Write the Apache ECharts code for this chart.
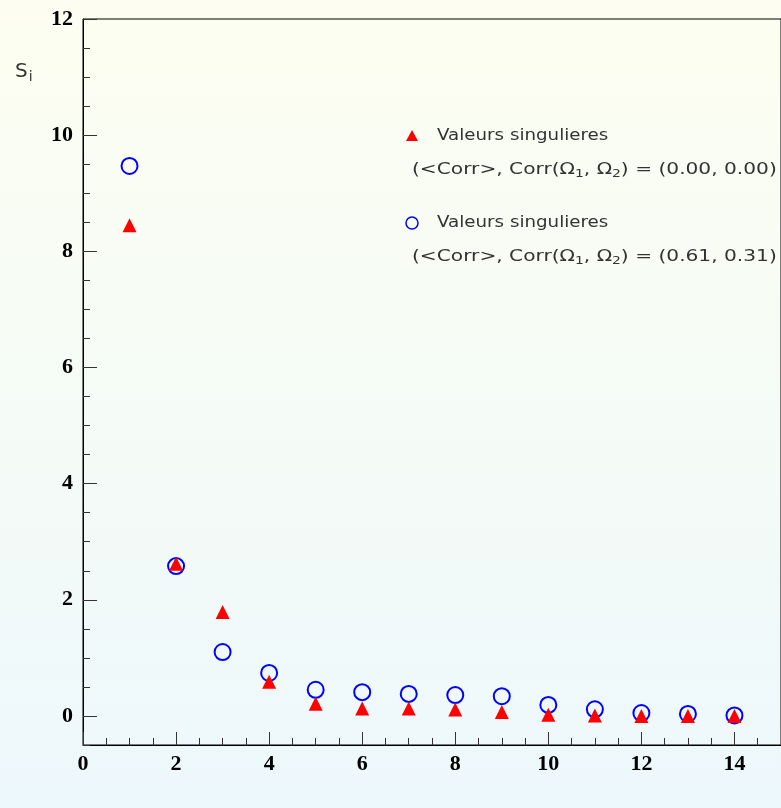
<!DOCTYPE html>
<html>
<head>
<meta charset="utf-8">
<script src="https://cdn.jsdelivr.net/npm/echarts@6/dist/echarts.min.js"></script>
<style>
html,body{margin:0;padding:0;}
#c{width:781px;height:808px;}
</style>
</head>
<body>
<div id="c"></div>
<script>
// ---- data ----
var indices = [1, 2, 3, 4, 5, 6, 7, 8, 9, 10, 11, 12, 13, 14];
var svUncorrelated = [8.45, 2.62, 1.79, 0.59, 0.21, 0.13, 0.13, 0.11, 0.07, 0.02, 0.01, 0.0, 0.0, 0.0];
var svCorrelated = [9.47, 2.58, 1.10, 0.74, 0.45, 0.41, 0.38, 0.36, 0.34, 0.19, 0.115, 0.05, 0.035, 0.01];
var xMajorTicks = [0, 2, 4, 6, 8, 10, 12, 14];
var xMinorTicks = [0.5, 1, 1.5, 2.5, 3, 3.5, 4.5, 5, 5.5, 6.5, 7, 7.5, 8.5, 9, 9.5, 10.5, 11, 11.5, 12.5, 13, 13.5, 14.5];
var yMajorTicks = [0, 2, 4, 6, 8, 10, 12];
var yMinorTicks = [-0.5, 0.5, 1, 1.5, 2.5, 3, 3.5, 4.5, 5, 5.5, 6.5, 7, 7.5, 8.5, 9, 9.5, 10.5, 11, 11.5];
var legendName = 'Valeurs singulieres';
var legendCorr1 = '(<Corr>, Corr(Ω{sub|1}, Ω{sub|2}) = (0.00, 0.00)';
var legendCorr2 = '(<Corr>, Corr(Ω{sub|1}, Ω{sub|2}) = (0.61, 0.31)';

function pairs(xs, ys) { return xs.map(function (x, i) { return [x, ys[i]]; }); }

var chart = echarts.init(document.getElementById('c'), null, {renderer: 'canvas'});
var labelFont = {fontFamily: 'Liberation Serif', fontWeight: 'bold', fontSize: 22, color: '#000'};
var legFont = 'DejaVu Sans';
var legStyle = function (t) {
  return {text: t, fontFamily: legFont, fontSize: 16, fill: '#333', verticalAlign: 'middle',
    rich: {sub: {fontFamily: legFont, fontSize: 11, fill: '#333', padding: [9, 0, 0, 0]}}};
};

var option = {
  animation: false,
  backgroundColor: new echarts.graphic.LinearGradient(0, 0, 0, 1, [
    {offset: 0, color: '#fdfef1'},
    {offset: 0.5, color: '#f5fbf6'},
    {offset: 1, color: '#edf8fc'}
  ]),
  grid: {left: 83, top: 19, width: 704, height: 726, show: true, borderColor: '#000', borderWidth: 1, backgroundColor: 'transparent'},
  xAxis: [{
    type: 'value', min: 0, max: 15, gridIndex: 0, position: 'bottom',
    axisLine: {show: true, onZero: false, lineStyle: {color: '#000', width: 1}},
    axisTick: {show: true, inside: true, length: 13, customValues: xMajorTicks, lineStyle: {color: '#333'}},
    axisLabel: Object.assign({show: true, margin: 8, customValues: xMajorTicks}, labelFont),
    splitLine: {show: false}
  }, {
    type: 'value', min: 0, max: 15, gridIndex: 0, position: 'bottom',
    axisLine: {show: false, onZero: false},
    axisTick: {show: true, inside: true, length: 7, customValues: xMinorTicks, lineStyle: {color: '#333'}},
    axisLabel: {show: false},
    splitLine: {show: false}
  }],
  yAxis: [{
    type: 'value', min: -0.5, max: 12, gridIndex: 0, position: 'left',
    axisLine: {show: true, onZero: false, lineStyle: {color: '#000', width: 1}},
    axisTick: {show: true, inside: true, length: 14, customValues: yMajorTicks, lineStyle: {color: '#333'}},
    axisLabel: Object.assign({show: true, margin: 10, customValues: yMajorTicks}, labelFont),
    splitLine: {show: false}
  }, {
    type: 'value', min: -0.5, max: 12, gridIndex: 0, position: 'left', offset: 0,
    axisLine: {show: false, onZero: false},
    axisTick: {show: true, inside: true, length: 7, customValues: yMinorTicks, lineStyle: {color: '#333'}},
    axisLabel: {show: false},
    splitLine: {show: false}
  }],
  series: [{
    name: legendName + ' (corr)',
    type: 'scatter', xAxisIndex: 0, yAxisIndex: 0, z: 2,
    symbol: 'circle', symbolSize: 16,
    itemStyle: {color: 'rgba(0,0,0,0)', borderColor: '#0000ff', borderWidth: 2, opacity: 1},
    emphasis: {disabled: true},
    data: pairs(indices, svCorrelated)
  }, {
    name: legendName,
    type: 'scatter', xAxisIndex: 0, yAxisIndex: 0, z: 3,
    symbol: 'triangle', symbolSize: [14, 14],
    itemStyle: {color: '#ff0000', opacity: 1},
    emphasis: {disabled: true},
    data: pairs(indices, svUncorrelated)
  }],
  graphic: [
    {type: 'text', left: 15, top: 62, style: {
      text: '{s|S}{i|i}', rich: {
        s: {fontFamily: legFont, fontSize: 20, fill: '#333'},
        i: {fontFamily: legFont, fontSize: 14, fill: '#333', padding: [10, 0, 0, 1]}
      }}},
    {type: 'polygon', shape: {points: [[412, 130], [418, 141], [406, 141]]}, style: {fill: '#ff0000'}},
    {type: 'text', x: 437, y: 136, scaleX: 1.14, style: legStyle(legendName)},
    {type: 'text', x: 412, y: 170, scaleX: 1.26, style: legStyle(legendCorr1)},
    {type: 'circle', shape: {cx: 412, cy: 223, r: 6}, style: {fill: 'none', stroke: '#0000ff', lineWidth: 1.5}},
    {type: 'text', x: 437, y: 223, scaleX: 1.14, style: legStyle(legendName)},
    {type: 'text', x: 412, y: 257, scaleX: 1.26, style: legStyle(legendCorr2)}
  ]
};
chart.setOption(option);
</script>
</body>
</html>
